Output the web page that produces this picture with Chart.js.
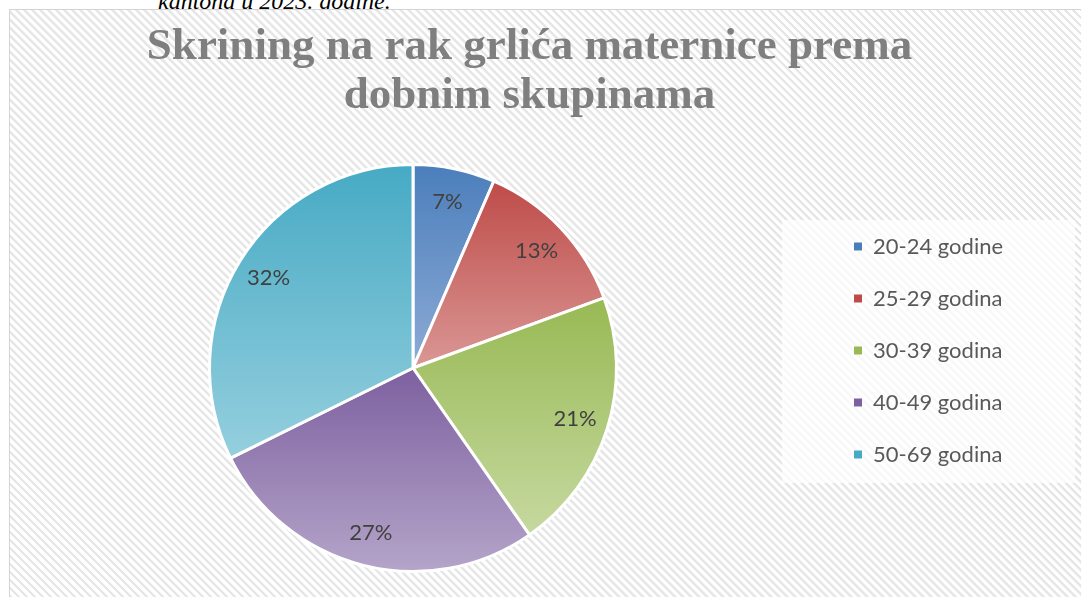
<!DOCTYPE html>
<html>
<head>
<meta charset="utf-8">
<script src="https://cdn.jsdelivr.net/npm/chart.js@4"></script>
<style>
  html, body { margin: 0; padding: 0; background: #ffffff; overflow: hidden; }
  body { width: 1081px; height: 597px; position: relative; }
  #caption {
    position: absolute; left: 158px; top: -11px;
    font-family: "Liberation Serif", serif; font-style: italic; font-size: 24px; line-height: 24px;
    color: #000; white-space: nowrap;
  }
  #frame {
    position: absolute; left: 9px; top: 9px; width: 1080px; height: 600px;
    border-left: 1px solid #d4d4d4; border-top: 1px solid #d4d4d4;
    background: repeating-linear-gradient(45deg, #ffffff 0px, #ffffff 2.9px, #e6e6e6 3.3px, #e6e6e6 5.2px, #ffffff 5.66px);
  }
  #wrap { position: absolute; left: 10px; top: 10px; width: 1071px; height: 587px; }
</style>
</head>
<body>
<div id="caption">kantona u 2023. godine.</div>
<div id="frame"></div>
<div id="wrap"><canvas id="c" width="1071" height="587"></canvas></div>
<script>
const categories = ["20-24 godine", "25-29 godina", "30-39 godina", "40-49 godina", "50-69 godina"];
const shares = [6.5, 12.9, 20.9, 27.4, 32.3];
const titleLines = ["Skrining na rak grlića maternice prema", "dobnim skupinama"];
const topColors = ["#4a7ebb", "#be4b48", "#98b954", "#7d60a0", "#46aac4"];
const bottomColors = ["#8eabd6", "#da9795", "#c6d9a0", "#b5a5c9", "#95cfde"];

// gradient per slice, spanning the slice's own vertical extent
function sliceGradient(ctx) {
  const chart = ctx.chart;
  const area = chart.chartArea;
  if (!area) return topColors[ctx.dataIndex];
  const i = ctx.dataIndex;
  const total = shares.reduce((a, b) => a + b, 0);
  let before = 0;
  for (let k = 0; k < i; k++) before += shares[k];
  const a0 = -Math.PI / 2 + 2 * Math.PI * before / total;
  const a1 = a0 + 2 * Math.PI * shares[i] / total;
  const cx = (area.left + area.right) / 2, cy = (area.top + area.bottom) / 2;
  const r = Math.min(area.right - area.left, area.bottom - area.top) / 2;
  const ys = [cy, cy + r * Math.sin(a0), cy + r * Math.sin(a1)];
  for (let k = -4; k <= 8; k++) {
    const ang = k * Math.PI / 2;
    if (ang > a0 && ang < a1) ys.push(cy + r * Math.sin(ang));
  }
  const y0 = Math.min(...ys), y1 = Math.max(...ys);
  const g = chart.ctx.createLinearGradient(0, y0, 0, y1);
  g.addColorStop(0, topColors[i]);
  g.addColorStop(1, bottomColors[i]);
  return g;
}

const PIE = { cx: 403, cy: 358, r: 205 };
const LEGEND_BOX = { left: 772, top: 210, right: 1065, bottom: 473 };

const layoutPlugin = {
  id: 'layoutFix',
  afterLayout(chart) {
    const a = chart.chartArea;
    a.left = PIE.cx - PIE.r; a.right = PIE.cx + PIE.r;
    a.top = PIE.cy - PIE.r; a.bottom = PIE.cy + PIE.r;
    a.width = a.right - a.left; a.height = a.bottom - a.top;
    const lg = chart.legend;
    const w = lg.right - lg.left;
    lg.left = 814; lg.right = 814 + w;
    lg.top = 100; lg.bottom = 581;
    lg.width = lg.right - lg.left; lg.height = lg.bottom - lg.top;
  },
  beforeDraw(chart) {
    const c = chart.ctx;
    c.save();
    c.fillStyle = 'rgba(255,255,255,0.72)';
    c.fillRect(LEGEND_BOX.left, LEGEND_BOX.top, LEGEND_BOX.right - LEGEND_BOX.left, LEGEND_BOX.bottom - LEGEND_BOX.top);
    c.restore();
  }
};

const labelPlugin = {
  id: 'sliceLabels',
  afterDatasetsDraw(chart) {
    const c = chart.ctx;
    const meta = chart.getDatasetMeta(0);
    c.save();
    c.font = '22px Lato';
    c.fillStyle = '#404040';
    c.textAlign = 'center';
    c.textBaseline = 'middle';
    meta.data.forEach((el, i) => {
      const p = el.getProps(['x', 'y', 'startAngle', 'endAngle', 'outerRadius'], true);
      const mid = (p.startAngle + p.endAngle) / 2;
      const rr = p.outerRadius * 0.835;
      const v = chart.data.datasets[0].data[i];
      c.fillText(Math.round(v) + '%', p.x + Math.cos(mid) * rr, p.y + Math.sin(mid) * rr);
    });
    c.restore();
  }
};

new Chart(document.getElementById('c'), {
  type: 'pie',
  data: {
    labels: categories,
    datasets: [{
      data: shares,
      backgroundColor: sliceGradient,
      borderColor: '#ffffff',
      borderWidth: 3,
      hoverOffset: 0
    }]
  },
  options: {
    responsive: false,
    animation: false,
    layout: { padding: { right: 32 } },
    plugins: {
      title: {
        display: true,
        text: titleLines,
        color: '#7f7f7f',
        font: { family: 'Liberation Serif', weight: 'bold', size: 45, lineHeight: 1.08 },
        padding: { top: 13, bottom: 10 }
      },
      legend: {
        position: 'right',
        align: 'center',
        labels: {
          font: { family: 'Lato', size: 22 },
          color: '#595959',
          boxWidth: 8,
          boxHeight: 8,
          padding: 30,
          generateLabels(chart) {
            return categories.map((t, i) => ({
              text: t, fillStyle: topColors[i], strokeStyle: topColors[i], lineWidth: 0,
              hidden: false, index: i, fontColor: '#595959'
            }));
          }
        }
      },
      tooltip: { enabled: false }
    }
  },
  plugins: [layoutPlugin, labelPlugin]
});
</script>
</body>
</html>
